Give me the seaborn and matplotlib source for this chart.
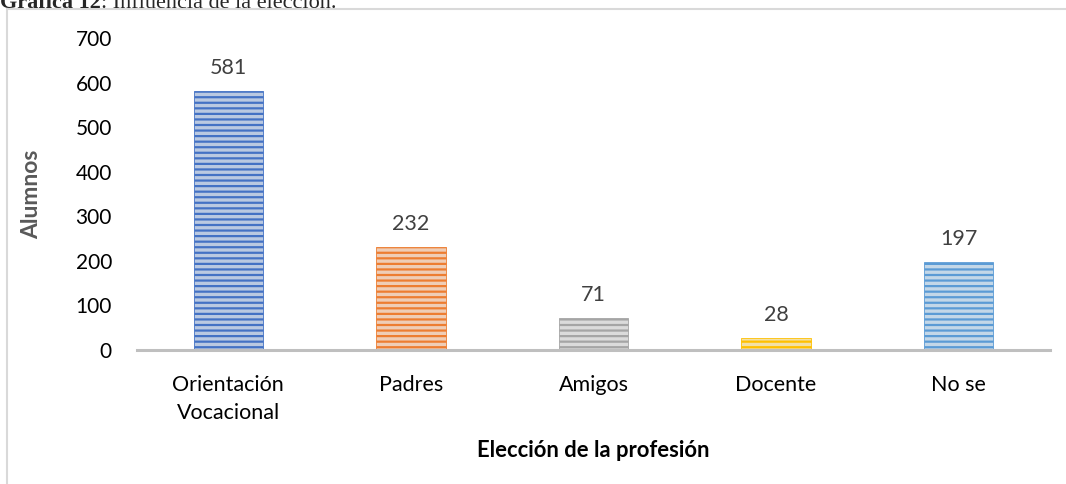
import pandas as pd
import numpy as np
import seaborn as sns
import matplotlib.pyplot as plt
from matplotlib.lines import Line2D

categorias = ['Orientación\nVocacional', 'Padres', 'Amigos', 'Docente', 'No se']
alumnos = [581, 232, 71, 28, 197]
colores = ['#4472C4', '#ED7D31', '#A5A5A5', '#FFC000', '#5B9BD5']
colores_claros = ['#B4C7E7', '#F8CBAD', '#DBDBDB', '#FFE699', '#BDD7EE']

df = pd.DataFrame({'categoria': categorias, 'alumnos': alumnos})

sns.set_style('white')
plt.rcParams['font.family'] = ['Lato', 'DejaVu Sans']
plt.rcParams['hatch.linewidth'] = 1.6

fig = plt.figure(figsize=(10.66, 4.84), dpi=100)
ax = fig.add_axes([0.1285, 0.2769, 0.8565, 0.6446])

sns.barplot(data=df, x='categoria', y='alumnos', hue='categoria',
            palette=colores_claros, width=0.38, legend=False, ax=ax)

for barra, c in zip(ax.patches, colores):
    barra.set_hatch('---')
    barra.set_edgecolor(c)
    barra.set_linewidth(0.6)

for i, v in enumerate(alumnos):
    ax.annotate(str(v), (i, v), xytext=(0, 13), textcoords='offset pixels',
                ha='center', va='bottom', fontsize=15.5, color='#404040')

ax.set_ylim(0, 700)
ax.set_xlim(-0.5, 4.5)
ax.set_yticks(range(0, 701, 100))
ax.tick_params(axis='y', length=0, pad=18, labelsize=15, labelcolor='#000000')
ax.tick_params(axis='x', length=0, pad=18, labelsize=15.5, labelcolor='#000000')
for lab in ax.get_xticklabels():
    lab.set_linespacing(1.5)

for s in ['top', 'right', 'left']:
    ax.spines[s].set_visible(False)
ax.spines['bottom'].set_color('#BFBFBF')
ax.spines['bottom'].set_linewidth(2.2)

ax.set_ylabel('Alumnos', fontsize=16.5, fontweight='bold', color='#595959', labelpad=24)
ax.set_xlabel('Elección de la profesión', fontsize=15.8, fontweight='bold',
              color='#000000', labelpad=12)

# marco gris del gráfico
W, H = 1066, 484
fig.add_artist(Line2D([7 / W, 7 / W], [0, 1 - 9 / H], color='#D9D9D9', lw=1.5))
fig.add_artist(Line2D([7 / W, 1], [1 - 9 / H, 1 - 9 / H], color='#D9D9D9', lw=1.5))

# titulo cortado arriba
t1 = fig.text(0.0, 1 - 8 / H, 'Gráfica 12', fontsize=16, fontweight='bold',
              family='Liberation Serif', va='baseline', ha='left')
fig.canvas.draw()
bb = t1.get_window_extent()
fig.text(bb.x1 / W, 1 - 8 / H, ': Influencia de la elección.', fontsize=16,
         family='Liberation Serif', va='baseline', ha='left')

fig.savefig('out.png', dpi=100)
